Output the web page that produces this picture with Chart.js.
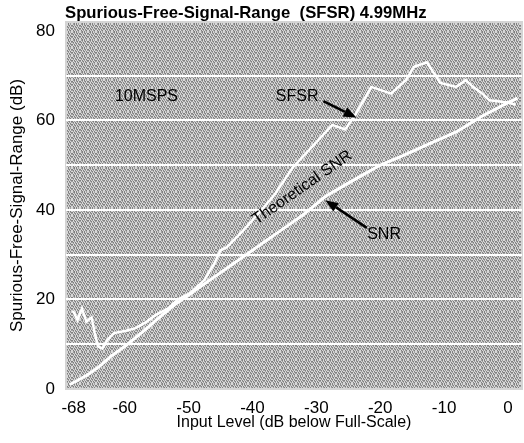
<!DOCTYPE html>
<html><head><meta charset="utf-8">
<script src="https://cdn.jsdelivr.net/npm/chart.js@4"></script>
<style>html,body{margin:0;padding:0;background:#fff}#wrap{width:524px;height:443px}</style>
</head><body><div id="wrap"><canvas id="c" width="524" height="443"></canvas></div>
<script>
// ---- data ----
const sfsrInput  = [-68.1,-67.4,-66.7,-66.0,-65.2,-64.7,-64.2,-63.5,-62.7,-61.7,-59.8,-58.3,-56.6,-55.2,-53.2,-51.7,-49.7,-47.5,-46.0,-45.0,-44.0,-41.4,-38.9,-36.5,-33.7,-30.1,-27.5,-25.5,-24.0,-21.4,-18.3,-16.0,-14.7,-12.7,-10.6,-8.1,-6.6,-5.5,-4.0,-2.9,0.0,1.2];
const sfsrValues = [17.5,15.4,18.0,15.0,16.0,12.5,9.5,9.0,11.0,12.5,13.0,13.6,15.0,16.5,18.0,20.0,21.5,24.4,28.0,31.0,31.7,35.5,39.5,43.5,49.5,55.0,59.0,58.0,61.0,67.5,66.0,69.0,72.0,73.0,68.4,67.5,69.0,67.5,66.0,64.5,64.0,63.5];
const snrInput   = [-68.6,-66,-64,-62,-60,-57,-55,-52,-50,-47,-45,-42,-40,-36,-32,-28.6,-25,-20,-16.7,-12,-8,-4,0,1.5];
const snrValues  = [1.0,3.0,5.0,7.5,9.5,13.0,15.5,19.0,21.0,24.0,26.0,29.0,31.0,35.0,39.0,43.0,46.0,50.0,52.0,55.0,57.5,61.0,64.0,65.0];
const xTickValues = [-68,-60,-50,-40,-30,-20,-10,0];
const yTickValues = [0,10,20,30,40,50,60,70,80];
const yLabelValues = [0,20,40,60,80];
const titleText = 'Spurious-Free-Signal-Range  (SFSR) 4.99MHz';
const xTitle = 'Input Level (dB below Full-Scale)';
const yTitle = 'Spurious-Free-Signal-Range (dB)';

// annotations in data coordinates
const notes = [
  {text:'10MSPS', x:-56.6, y:65.3, rot:0},
  {text:'SFSR', x:-33.0, y:65.3, rot:0},
  {text:'SNR', x:-19.4, y:34.4, rot:0},
  {text:'Theoretical SNR', x:-32.2, y:45.0, rot:-35}
];
const arrows = [
  {from:[-28.9,64.3], to:[-23.7,60.6]},
  {from:[-22.1,36.0], to:[-28.6,42.2]}
];

const FONT = '"Liberation Sans", Arial, Helvetica, sans-serif';

function makePattern(ctx){
  const c = document.createElement('canvas');
  c.width = 8; c.height = 8;
  const g = c.getContext('2d');
  for (let i=0;i<8;i++) for (let j=0;j<8;j++){
    const k = (i*3 + j*5) % 7;
    g.fillStyle = k < 3 ? '#d8d8d8' : (k < 5 ? '#a0a0a0' : '#808080');
    g.fillRect(i,j,1,1);
  }
  return ctx.createPattern(c,'repeat');
}

const bgPlugin = {
  id:'bg',
  beforeDraw(chart){
    const {ctx, chartArea:a} = chart;
    ctx.save();
    ctx.fillStyle = makePattern(ctx);
    ctx.fillRect(a.left, a.top, a.right-a.left, a.bottom-a.top);
    ctx.strokeStyle = '#d4d4d4';
    ctx.lineWidth = 2;
    ctx.strokeRect(a.left, a.top, a.right-a.left, a.bottom-a.top);
    // title
    ctx.fillStyle = '#000';
    ctx.font = 'bold 100px ' + FONT;
    const w = ctx.measureText(titleText).width;
    const size = 100 * 362 / w;
    ctx.font = 'bold ' + size.toFixed(2) + 'px ' + FONT;
    ctx.textBaseline = 'alphabetic';
    ctx.textAlign = 'left';
    ctx.fillText(titleText, 65, 18);
    ctx.restore();
  }
};

const notePlugin = {
  id:'notes',
  afterDatasetsDraw(chart){
    const {ctx, scales:{x, y}} = chart;
    ctx.save();
    ctx.fillStyle = '#000';
    ctx.strokeStyle = '#000';
    ctx.font = '16px ' + FONT;
    ctx.textAlign = 'center';
    ctx.textBaseline = 'middle';
    for (const n of notes){
      ctx.save();
      ctx.translate(x.getPixelForValue(n.x), y.getPixelForValue(n.y));
      ctx.rotate(n.rot*Math.PI/180);
      ctx.fillText(n.text, 0, 0);
      ctx.restore();
    }
    for (const a of arrows){
      const x0 = x.getPixelForValue(a.from[0]), y0 = y.getPixelForValue(a.from[1]);
      const x1 = x.getPixelForValue(a.to[0]),   y1 = y.getPixelForValue(a.to[1]);
      const ang = Math.atan2(y1-y0, x1-x0);
      const L = 13, W = 5;
      const bx = x1 - L*Math.cos(ang), by = y1 - L*Math.sin(ang);
      ctx.lineWidth = 2.5;
      ctx.beginPath(); ctx.moveTo(x0,y0); ctx.lineTo(bx,by); ctx.stroke();
      ctx.beginPath();
      ctx.moveTo(x1,y1);
      ctx.lineTo(bx + W*Math.sin(ang), by - W*Math.cos(ang));
      ctx.lineTo(bx - W*Math.sin(ang), by + W*Math.cos(ang));
      ctx.closePath(); ctx.fill();
    }
    ctx.restore();
  }
};

const toPts = (xs, ys) => xs.map((v,i)=>({x:v, y:ys[i]}));

new Chart(document.getElementById('c'), {
  type:'line',
  data:{
    datasets:[
      {label:'SFSR', data:toPts(sfsrInput, sfsrValues), borderColor:'#ffffff', borderWidth:2.5, pointRadius:0, tension:0, fill:false},
      {label:'SNR', data:toPts(snrInput, snrValues), borderColor:'#ffffff', borderWidth:3, pointRadius:0, tension:0, fill:false}
    ]
  },
  options:{
    responsive:false,
    animation:false,
    devicePixelRatio:1,
    layout:{padding:{top:22, right:2, left:0, bottom:0}},
    plugins:{legend:{display:false}, title:{display:false}, tooltip:{enabled:false}},
    scales:{
      x:{
        type:'linear', min:-69.2, max:2.2,
        afterBuildTicks(s){ s.ticks = xTickValues.map(v=>({value:v})); },
        afterFit(s){ s.height = 54; },
        grid:{display:false, drawTicks:false},
        border:{display:false},
        ticks:{color:'#000', font:{family:FONT, size:17}, padding:9, maxRotation:0, autoSkip:false,
               callback:v=>String(v)},
        title:{display:true, text:xTitle, color:'#000', font:{family:FONT, size:16}, padding:{top:0, bottom:11}}
      },
      y:{
        type:'linear', min:0, max:82,
        afterBuildTicks(s){ s.ticks = yTickValues.map(v=>({value:v})); },
        afterFit(s){ s.width = 66; },
        grid:{drawTicks:false, lineWidth:2,
              color:c=> (c.tick && c.tick.value>0 && c.tick.value<80) ? '#ffffff' : 'rgba(0,0,0,0)'},
        border:{display:false},
        ticks:{color:'#000', font:{family:FONT, size:17}, padding:11, autoSkip:false,
               callback:v=> yLabelValues.includes(v) ? String(v) : ''},
        title:{display:true, text:yTitle, color:'#000', font:{family:FONT, size:17}, padding:{top:7, bottom:0}}
      }
    }
  },
  plugins:[bgPlugin, notePlugin]
});
</script>
</body></html>
